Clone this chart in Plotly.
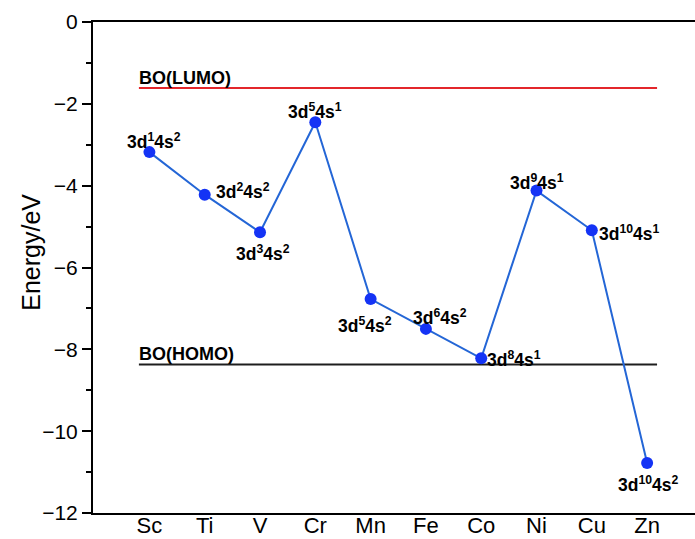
import plotly.graph_objects as go

# 3d transition metals and their energy levels (eV)
elements = ["Sc", "Ti", "V", "Cr", "Mn", "Fe", "Co", "Ni", "Cu", "Zn"]
energies = [-3.18, -4.22, -5.14, -2.45, -6.77, -7.50, -8.22, -4.12, -5.09, -10.78]
configs = [
    "3d<sup>1</sup>4s<sup>2</sup>", "3d<sup>2</sup>4s<sup>2</sup>", "3d<sup>3</sup>4s<sup>2</sup>",
    "3d<sup>5</sup>4s<sup>1</sup>", "3d<sup>5</sup>4s<sup>2</sup>", "3d<sup>6</sup>4s<sup>2</sup>",
    "3d<sup>8</sup>4s<sup>1</sup>", "3d<sup>9</sup>4s<sup>1</sup>", "3d<sup>10</sup>4s<sup>1</sup>",
    "3d<sup>10</sup>4s<sup>2</sup>",
]
# label placement around each marker: (x anchor, x shift px, y shift px)
label_pos = [
    ("center", 5, 11.5), ("left", 9, 3.5), ("center", 3, -20.5), ("center", 0, 11.5),
    ("center", -6, -25.5), ("center", 14, 11.5), ("left", 4, -0.5), ("center", 0, 8.5),
    ("left", 5, -2.5), ("center", 1, -21),
]

# reference band edges
lumo = -1.61
homo = -8.37
band_x = [0.81, 10.18]

x_idx = list(range(1, len(elements) + 1))

fig = go.Figure()

fig.add_trace(go.Scatter(
    x=band_x, y=[lumo, lumo], mode="lines",
    line=dict(color="#e3262b", width=2), hoverinfo="skip", showlegend=False,
))
fig.add_trace(go.Scatter(
    x=band_x, y=[homo, homo], mode="lines",
    line=dict(color="#1e1e1e", width=2), hoverinfo="skip", showlegend=False,
))
fig.add_trace(go.Scatter(
    x=x_idx, y=energies, mode="lines+markers",
    line=dict(color="#2466d6", width=2),
    marker=dict(color="#1433f5", size=12),
    showlegend=False,
))

label_font = dict(family="Arial, Liberation Sans, sans-serif", size=17.5, color="black")

for xi, yv, txt, (anc, dx, dy) in zip(x_idx, energies, configs, label_pos):
    fig.add_annotation(
        x=xi, y=yv, xref="x", yref="y", text=f"<b>{txt}</b>", showarrow=False,
        xanchor=anc, yanchor="middle", xshift=dx, yshift=dy, font=label_font,
    )

band_font = dict(family="Arial, Liberation Sans, sans-serif", size=18, color="black")
fig.add_annotation(x=band_x[0], y=lumo, xref="x", yref="y", text="<b>BO(LUMO)</b>",
                   showarrow=False, xanchor="left", yanchor="bottom", xshift=-2, yshift=-2,
                   font=band_font)
fig.add_annotation(x=band_x[0], y=homo, xref="x", yref="y", text="<b>BO(HOMO)</b>",
                   showarrow=False, xanchor="left", yanchor="bottom", xshift=-2, yshift=-2,
                   font=band_font)

fig.add_annotation(x=0, y=0.53, xref="paper", yref="paper", text="Energy/eV",
                   textangle=-90, showarrow=False, xanchor="center", yanchor="middle",
                   xshift=-62, font=dict(family="Arial, Liberation Sans, sans-serif",
                                         size=25, color="black"))

fig.update_xaxes(
    range=[-0.02, 10.866], tickvals=x_idx, ticktext=elements,
    showline=True, linecolor="black", linewidth=2, mirror=True,
    ticks="", showgrid=False, zeroline=False, automargin=False,
    ticklabelstandoff=-8,
    tickfont=dict(family="Arial, Liberation Sans, sans-serif", size=22, color="black"),
)
fig.update_yaxes(
    range=[-12, 0], dtick=2, showline=True, linecolor="black", linewidth=2,
    ticks="outside", ticklen=9, tickwidth=2, tickcolor="black",
    minor=dict(dtick=1, ticks="outside", ticklen=5, tickwidth=2, tickcolor="black"),
    showgrid=False, zeroline=False, automargin=False,
    tickfont=dict(family="Arial, Liberation Sans, sans-serif", size=21, color="black"),
)

fig.update_layout(
    width=695, height=539,
    margin=dict(l=93, r=0, t=22, b=26),
    plot_bgcolor="white", paper_bgcolor="white",
)

fig.write_html("out.html")
